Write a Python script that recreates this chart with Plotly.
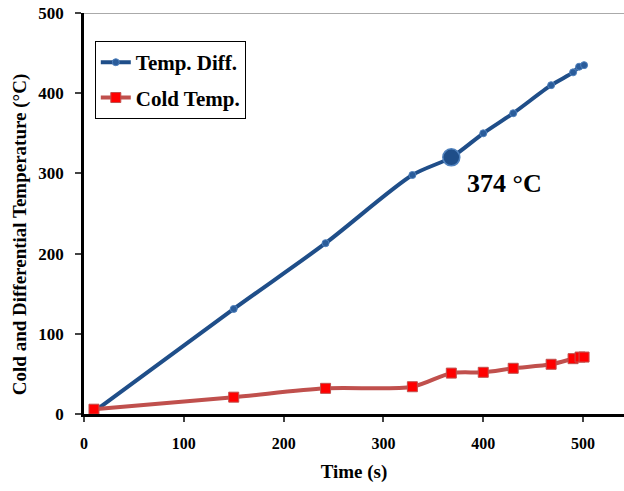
import plotly.graph_objects as go

time_diff = [10, 150, 242, 329, 368, 400, 430, 468, 490, 496, 501]
temp_diff = [3, 131, 213, 298, 320, 350, 375, 410, 426, 433, 435]
time_cold = [10, 150, 242, 329, 368, 400, 430, 468, 490, 497, 501]
cold_temp = [6, 21, 32, 34, 51, 52, 57, 62, 69, 71, 71]
highlight_x = [368]
highlight_y = [320]
annot_text = "374 °C"
tick_vals = [0, 100, 200, 300, 400, 500]

font = "Liberation Serif, Times New Roman, serif"

fig = go.Figure()
fig.add_trace(go.Scatter(
    x=time_diff, y=temp_diff, name="<b>Temp. Diff.</b>", mode="lines+markers",
    legendgroup="a", legendrank=1,
    line=dict(color="#1F4E89", width=4, shape="spline", smoothing=0.8),
    marker=dict(symbol="circle", size=7, color="#2A5C9A", line=dict(color="#4F81BD", width=1)),
))
fig.add_trace(go.Scatter(
    x=time_cold, y=cold_temp, name="<b>Cold Temp.</b>", mode="lines+markers",
    legendgroup="b", legendrank=2,
    line=dict(color="#C0504D", width=4, shape="spline", smoothing=0.8),
    marker=dict(symbol="square", size=10, color="#FF0000", line=dict(color="#C0504D", width=1)),
))
fig.add_trace(go.Scatter(
    x=highlight_x, y=highlight_y, mode="markers", showlegend=False,
    marker=dict(symbol="circle", size=17, color="#1F4E89", line=dict(color="#4F81BD", width=1.5)),
))

fig.add_annotation(x=421, y=287, text="<b>" + annot_text + "</b>", showarrow=False,
                   font=dict(family=font, size=26, color="black"))

fig.add_annotation(xref="paper", yref="paper", x=-0.117, y=0.448, textangle=-90,
                   xanchor="center", yanchor="middle",
                   text="<b>Cold and Differential Temperature (°C)</b>", showarrow=False,
                   font=dict(family=font, size=19, color="black"))

fig.add_shape(type="line", xref="paper", yref="y", x0=0, x1=1, y0=500, y1=500,
              line=dict(color="#AAAAAA", width=2), layer="below")

fig.update_layout(
    width=624, height=491,
    margin=dict(l=84, r=0, t=13, b=77),
    paper_bgcolor="white", plot_bgcolor="white",
    font=dict(family=font, size=16, color="black"),
    legend=dict(x=0.02, y=0.93, xanchor="left", yanchor="top",
                bordercolor="black", borderwidth=1, bgcolor="white",
                font=dict(family=font, size=21, color="black"),
                traceorder="grouped", itemwidth=30, tracegroupgap=5),
    showlegend=True,
)
fig.update_xaxes(range=[0, 541], tickvals=tick_vals,
                 ticktext=["<b>%d</b>" % v for v in tick_vals],
                 showline=True, linecolor="black", linewidth=2.5, ticks="outside",
                 ticklen=5, tickwidth=1.5, tickcolor="#444", showgrid=False, zeroline=False,
                 ticklabelstandoff=8,
                 title=dict(text="<b>Time (s)</b>", font=dict(family=font, size=19), standoff=14),
                 tickfont=dict(family=font, size=16))
fig.update_yaxes(range=[0, 500], tickvals=tick_vals,
                 ticktext=["<b>%d</b>" % v for v in tick_vals],
                 showline=True, linecolor="black", linewidth=2.5, ticks="outside",
                 ticklen=6, tickwidth=1.5, tickcolor="#444", showgrid=False, zeroline=False,
                 ticklabelstandoff=8,
                 tickfont=dict(family=font, size=17))

fig.write_html("out.html")
